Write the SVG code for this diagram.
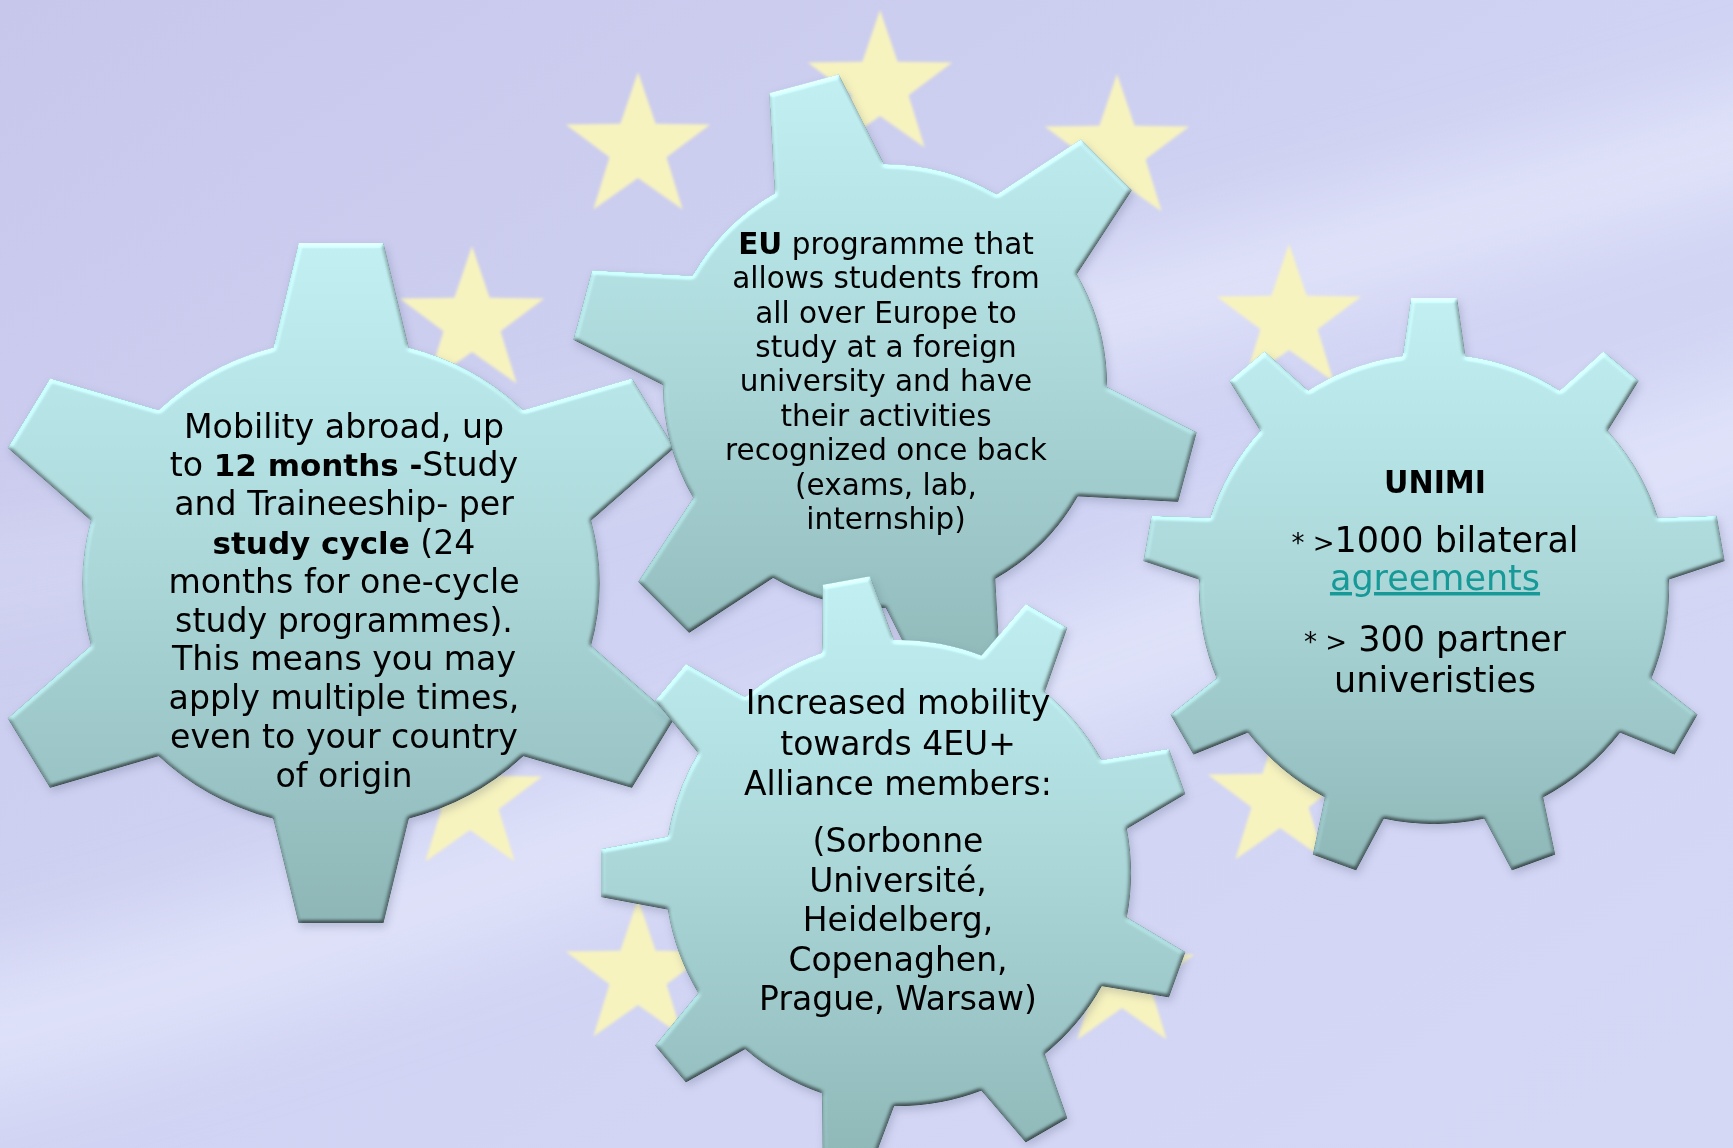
<svg xmlns="http://www.w3.org/2000/svg" xmlns:xlink="http://www.w3.org/1999/xlink" width="1733" height="1148" viewBox="0 0 1733 1148">
<defs>
<style>
.t{font-family:"DejaVu Sans",Verdana,sans-serif;fill:#000;text-anchor:middle}
.b{font-weight:bold}
.lnk{fill:#179a97;text-decoration:underline}
</style>
<linearGradient id="bg" x1="0" y1="0" x2="1" y2="1">
<stop offset="0" stop-color="#c7c7eb"/>
<stop offset="0.5" stop-color="#d0d3f3"/>
<stop offset="1" stop-color="#d5d8f5"/>
</linearGradient>
<linearGradient id="gearfill" x1="0" y1="0" x2="0" y2="1">
<stop offset="0" stop-color="#c3f1f3"/>
<stop offset="0.5" stop-color="#aad6d8"/>
<stop offset="1" stop-color="#8db5b6"/>
</linearGradient>
<filter id="soft" x="-30%" y="-30%" width="160%" height="160%"><feGaussianBlur stdDeviation="40"/></filter>
<filter id="starblur" x="-20%" y="-20%" width="140%" height="140%"><feGaussianBlur stdDeviation="1.6"/></filter>
<filter id="bevel" x="-5%" y="-5%" width="110%" height="112%" color-interpolation-filters="sRGB">
<feGaussianBlur in="SourceAlpha" stdDeviation="2" result="b"/>
<feDiffuseLighting in="b" surfaceScale="3" diffuseConstant="1" lighting-color="#ffffff" result="d">
<feDistantLight azimuth="250" elevation="50"/>
</feDiffuseLighting>
<feComposite in="SourceGraphic" in2="d" operator="arithmetic" k1="0.783" k2="0.4" k3="0" k4="0" result="lit"/>
<feGaussianBlur in="SourceAlpha" stdDeviation="4" result="sb"/>
<feOffset in="sb" dx="2" dy="4" result="so"/>
<feFlood flood-color="#2d3a5c" flood-opacity="0.22"/>
<feComposite in2="so" operator="in" result="sh"/>
<feMerge><feMergeNode in="sh"/><feMergeNode in="lit"/></feMerge>
</filter>
<polygon id="star" points="0,-76 17.63,-24.27 72.28,-23.49 28.53,9.27 44.67,61.49 0,30 -44.67,61.49 -28.53,9.27 -72.28,-23.49 -17.63,-24.27"/>
<polygon id="t1" points="-40,-340 40,-340 72,-200 -72,-200"/>
<polygon id="t2" points="-36,-313 36,-313 62.7,-185 -62.7,-185"/>
<polygon id="t3" points="-24,-297 24,-297 42.2,-200 -42.2,-200"/>
<polygon id="t4" points="-23,-291 23,-291 36,-200 -36,-200"/>
<clipPath id="c1">
<ellipse cx="341" cy="583" rx="258.6" ry="244"/>
<use xlink:href="#t1" href="#t1" transform="translate(341 583) scale(1.06 1) rotate(0)"/>
<use xlink:href="#t1" href="#t1" transform="translate(341 583) scale(1.06 1) rotate(60)"/>
<use xlink:href="#t1" href="#t1" transform="translate(341 583) scale(1.06 1) rotate(120)"/>
<use xlink:href="#t1" href="#t1" transform="translate(341 583) scale(1.06 1) rotate(180)"/>
<use xlink:href="#t1" href="#t1" transform="translate(341 583) scale(1.06 1) rotate(240)"/>
<use xlink:href="#t1" href="#t1" transform="translate(341 583) scale(1.06 1) rotate(300)"/>
</clipPath>
<clipPath id="c2">
<circle cx="885" cy="386" r="222"/>
<use xlink:href="#t2" href="#t2" transform="translate(885 386) rotate(-15)"/>
<use xlink:href="#t2" href="#t2" transform="translate(885 386) rotate(45)"/>
<use xlink:href="#t2" href="#t2" transform="translate(885 386) rotate(105)"/>
<use xlink:href="#t2" href="#t2" transform="translate(885 386) rotate(165)"/>
<use xlink:href="#t2" href="#t2" transform="translate(885 386) rotate(225)"/>
<use xlink:href="#t2" href="#t2" transform="translate(885 386) rotate(285)"/>
</clipPath>
<clipPath id="c3">
<circle cx="898" cy="873" r="233"/>
<use xlink:href="#t3" href="#t3" transform="translate(898 873) rotate(-10)"/>
<use xlink:href="#t3" href="#t3" transform="translate(898 873) rotate(30)"/>
<use xlink:href="#t3" href="#t3" transform="translate(898 873) rotate(70)"/>
<use xlink:href="#t3" href="#t3" transform="translate(898 873) rotate(110)"/>
<use xlink:href="#t3" href="#t3" transform="translate(898 873) rotate(150)"/>
<use xlink:href="#t3" href="#t3" transform="translate(898 873) rotate(190)"/>
<use xlink:href="#t3" href="#t3" transform="translate(898 873) rotate(230)"/>
<use xlink:href="#t3" href="#t3" transform="translate(898 873) rotate(270)"/>
<use xlink:href="#t3" href="#t3" transform="translate(898 873) rotate(310)"/>
</clipPath>
<clipPath id="c4">
<circle cx="1434" cy="589" r="235"/>
<use xlink:href="#t4" href="#t4" transform="translate(1434 589) rotate(0)"/>
<use xlink:href="#t4" href="#t4" transform="translate(1434 589) rotate(40)"/>
<use xlink:href="#t4" href="#t4" transform="translate(1434 589) rotate(80)"/>
<use xlink:href="#t4" href="#t4" transform="translate(1434 589) rotate(120)"/>
<use xlink:href="#t4" href="#t4" transform="translate(1434 589) rotate(160)"/>
<use xlink:href="#t4" href="#t4" transform="translate(1434 589) rotate(200)"/>
<use xlink:href="#t4" href="#t4" transform="translate(1434 589) rotate(240)"/>
<use xlink:href="#t4" href="#t4" transform="translate(1434 589) rotate(280)"/>
<use xlink:href="#t4" href="#t4" transform="translate(1434 589) rotate(320)"/>
</clipPath>
</defs>

<g id="background">
<rect width="1733" height="1148" fill="url(#bg)"/>
<g filter="url(#soft)" fill="#eef0ff">
<path d="M-200,1000 C300,920 900,640 1900,320 L1900,460 C900,780 300,1060 -200,1140 Z" opacity="0.5"/>
<path d="M950,300 C1200,240 1500,160 1900,40 L1900,150 C1500,270 1200,350 950,400 Z" opacity="0.55"/>
<path d="M-200,560 C200,520 600,420 1000,300 L1000,360 C600,480 200,600 -200,640 Z" opacity="0.25"/>
</g>
</g>

<g id="stars" fill="#f7f3bf" filter="url(#starblur)">
<use xlink:href="#star" href="#star" x="880" y="86"/>
<use xlink:href="#star" href="#star" x="1117" y="150"/>
<use xlink:href="#star" href="#star" x="1289" y="320"/>
<use xlink:href="#star" href="#star" x="1350" y="556"/>
<use xlink:href="#star" href="#star" x="1280" y="798"/>
<use xlink:href="#star" href="#star" x="1122" y="978"/>
<use xlink:href="#star" href="#star" x="880" y="1036"/>
<use xlink:href="#star" href="#star" x="638" y="975"/>
<use xlink:href="#star" href="#star" x="470" y="800"/>
<use xlink:href="#star" href="#star" x="410" y="556"/>
<use xlink:href="#star" href="#star" x="472" y="322"/>
<use xlink:href="#star" href="#star" x="638" y="148"/>
</g>

<g id="connectors"></g>

<g id="gear-mobility">
<g filter="url(#bevel)"><rect x="-20" y="233" width="732" height="700" fill="url(#gearfill)" clip-path="url(#c1)"/></g>
<text class="t" x="344" y="437.6" font-size="33.2">Mobility abroad, up</text>
<text class="t" x="344" y="476.4" font-size="33.2">to <tspan class="b" font-size="31">12 months -</tspan>Study</text>
<text class="t" x="344" y="515.2" font-size="33.2">and Traineeship- per</text>
<text class="t" x="344" y="554" font-size="33.2"><tspan class="b" font-size="31">study cycle</tspan> (24</text>
<text class="t" x="344" y="592.8" font-size="33.2">months for one-cycle</text>
<text class="t" x="344" y="631.6" font-size="33.2">study programmes).</text>
<text class="t" x="344" y="670.4" font-size="33.2">This means you may</text>
<text class="t" x="344" y="709.2" font-size="33.2">apply multiple times,</text>
<text class="t" x="344" y="748" font-size="33.2">even to your country</text>
<text class="t" x="344" y="786.8" font-size="33.2">of origin</text>
</g>

<g id="gear-eu">
<g filter="url(#bevel)"><rect x="562" y="63" width="646" height="646" fill="url(#gearfill)" clip-path="url(#c2)"/></g>
<text class="t" x="886" y="253.8" font-size="29.5"><tspan class="b">EU</tspan> programme that</text>
<text class="t" x="886" y="288.2" font-size="29.5">allows students from</text>
<text class="t" x="886" y="322.6" font-size="29.5">all over Europe to</text>
<text class="t" x="886" y="357" font-size="29.5">study at a foreign</text>
<text class="t" x="886" y="391.4" font-size="29.5">university and have</text>
<text class="t" x="886" y="425.8" font-size="29.5">their activities</text>
<text class="t" x="886" y="460.2" font-size="29.5">recognized once back</text>
<text class="t" x="886" y="494.6" font-size="29.5">(exams, lab,</text>
<text class="t" x="886" y="529" font-size="29.5">internship)</text>
</g>

<g id="gear-unimi">
<g filter="url(#bevel)"><rect x="1133" y="288" width="602" height="602" fill="url(#gearfill)" clip-path="url(#c4)"/></g>
<text class="t b" x="1435" y="493" font-size="32" textLength="102" lengthAdjust="spacingAndGlyphs">UNIMI</text>
<text class="t" x="1435" y="552" font-size="35"><tspan font-size="26">* &gt;</tspan>1000 bilateral</text>
<text class="t lnk" x="1435" y="590" font-size="35">agreements</text>
<text class="t" x="1435" y="651" font-size="35"><tspan font-size="26">* &gt;</tspan> 300 partner</text>
<text class="t" x="1435" y="692" font-size="35">univeristies</text>
</g>

<g id="gear-4eu">
<g filter="url(#bevel)"><rect x="591" y="566" width="614" height="614" fill="url(#gearfill)" clip-path="url(#c3)"/></g>
<text class="t" x="898" y="714" font-size="33">Increased mobility</text>
<text class="t" x="898" y="754.5" font-size="33">towards 4EU+</text>
<text class="t" x="898" y="795" font-size="33">Alliance members:</text>
<text class="t" x="898" y="852" font-size="33">(Sorbonne</text>
<text class="t" x="898" y="891.5" font-size="33">Université,</text>
<text class="t" x="898" y="931" font-size="33">Heidelberg,</text>
<text class="t" x="898" y="970.5" font-size="33">Copenaghen,</text>
<text class="t" x="898" y="1010" font-size="33">Prague, Warsaw)</text>
</g>
</svg>
